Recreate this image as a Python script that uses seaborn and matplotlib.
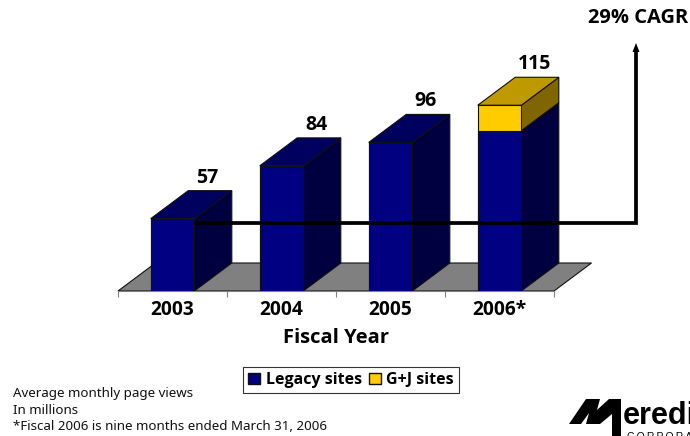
import matplotlib
matplotlib.use("Agg")
import matplotlib.pyplot as plt
import pandas as pd
import seaborn as sns
from matplotlib.lines import Line2D
from matplotlib.patches import Patch, Polygon

years = ["2003", "2004", "2005", "2006*"]
legacy = [57, 84, 96, 102]
gj = [0, 0, 0, 13]
totals = [57, 84, 96, 115]
notes = ["Average monthly page views", "In millions", "*Fiscal 2006 is nine months ended March 31, 2006"]

NAVY = "#000080"
NAVY_TOP = "#00005f"
NAVY_SIDE = "#000040"
GOLD = "#ffcc00"
GOLD_TOP = "#bf9900"
GOLD_SIDE = "#806600"

W, H = 690, 436
BASE = 20
PX_PER_UNIT = 1.955
BAR_W = 0.4
BOLD = "Open Sans"

sns.set_style("white")
plt.rcParams["font.family"] = ["Noto Sans"]
plt.rcParams["text.color"] = "black"

df = pd.DataFrame({"year": years, "legacy": legacy, "gj": gj})
df["top"] = df["legacy"] + df["gj"]

fig = plt.figure(figsize=(W / 100, H / 100), dpi=100)
ax = fig.add_axes([118 / W, (H - 291) / H, 436 / W, 100 * PX_PER_UNIT / H])
ax.patch.set_alpha(0)

# overlay in pixel coordinates for the annotation pieces
ov = fig.add_axes([0, 0, 1, 1], zorder=5)
ov.set_xlim(0, W)
ov.set_ylim(H, 0)
ov.axis("off")

sns.barplot(data=df, x="year", y="top", color=GOLD, width=BAR_W, saturation=1,
            edgecolor="#101010", linewidth=0.8, ax=ax, zorder=3)
sns.barplot(data=df, x="year", y="legacy", color=NAVY, width=BAR_W, saturation=1,
            edgecolor="#101010", linewidth=0.8, ax=ax, zorder=3)
ax.set_xlim(-0.5, 3.5)
ax.set_ylim(BASE, BASE + 100)

# depth of the fake 3D boxes, in data units
dx = 37.5 / 109
dy = 28 / PX_PER_UNIT
half = BAR_W / 2


def face(points, color, z):
    ax.add_patch(Polygon(points, closed=True, facecolor=color, edgecolor="#101010",
                         linewidth=0.8, zorder=z, clip_on=False))


# floor
face([(-0.5, BASE), (-0.5 + dx, BASE + dy), (3.5 + dx, BASE + dy), (3.5, BASE)], "#808080", 1)

for i, (low, high) in enumerate(zip(legacy, totals)):
    x0, x1 = i - half, i + half
    face([(x1, BASE), (x1 + dx, BASE + dy), (x1 + dx, low + dy), (x1, low)], NAVY_SIDE, 2)
    if high > low:
        face([(x1, low), (x1 + dx, low + dy), (x1 + dx, high + dy), (x1, high)], GOLD_SIDE, 2)
    top_color = GOLD_TOP if high > low else NAVY_TOP
    face([(x0, high), (x0 + dx, high + dy), (x1 + dx, high + dy), (x1, high)], top_color, 2)
    ax.text(i + half + dx / 2 - 0.05, high + dy + 1.5, str(high), ha="center", va="bottom",
            fontsize=14, fontweight="bold", family=BOLD, clip_on=False)

sns.despine(ax=ax, left=True)
ax.spines["bottom"].set_color("#808080")
ax.set_yticks([])
ax.set_ylabel("")
ax.set_xlabel("")
ax.set_xticks([-0.5, 0.5, 1.5, 2.5, 3.5], minor=False, labels=["", "", "", "", ""])
ax.tick_params(axis="x", length=4, width=0.8, color="#808080", bottom=True)
for i, year in enumerate(years):
    ax.text(i, BASE - 9.5, year, ha="center", va="center", fontsize=13.8, fontweight="bold", family=BOLD)

ov.text(336, 338, "Fiscal Year", ha="center", va="center", fontsize=14.5, fontweight="bold", family=BOLD)
ov.text(638.5, 18, "29% CAGR", ha="center", va="center", fontsize=14.5, fontweight="bold", family=BOLD)

# CAGR line and arrow
ov.add_line(Line2D([196, 636, 636], [223, 223, 52], color="black", linewidth=2.7,
                   solid_joinstyle="miter"))
ov.add_patch(Polygon([(632.5, 52), (636, 43), (639.5, 52)], closed=True, facecolor="black", edgecolor="none"))

# legend
handles = [Patch(facecolor=NAVY, edgecolor="#101010", label="Legacy sites"),
           Patch(facecolor=GOLD, edgecolor="#101010", label="G+J sites")]
leg = fig.legend(handles=handles, ncol=2, loc="center", bbox_to_anchor=(351 / W, (H - 380) / H),
                 frameon=True, fancybox=False, edgecolor="#333333", framealpha=1, borderpad=0.3,
                 handlelength=0.75, handleheight=0.75, handletextpad=0.35, columnspacing=0.45,
                 prop={"weight": "bold", "size": 11.5, "family": BOLD})
leg.get_frame().set_linewidth(0.8)

for y, line in zip([393, 410, 426], notes):
    ov.text(13, y, line, ha="left", va="center", fontsize=9.6, color="#111111")

# logo
m_shape = [(569, 424), (586, 399), (600, 399), (597, 410), (609, 399), (621, 399),
           (621, 436), (612, 436), (612, 414), (600, 424), (586, 424), (589, 413), (581, 424)]
ov.add_patch(Polygon(m_shape, closed=True, facecolor="black", edgecolor="none"))
ov.text(622.5, 424, "eredi", ha="left", va="baseline", fontsize=22, fontweight="bold",
        family="Liberation Sans", clip_on=True)
ov.text(627, 431.5, "C\u2009O\u2009R\u2009P\u2009O\u2009R\u2009A\u2009T\u2009I\u2009O\u2009N", ha="left", va="top",
        fontsize=7.5, family="Liberation Sans", clip_on=True)

fig.savefig("out.png", dpi=100)
